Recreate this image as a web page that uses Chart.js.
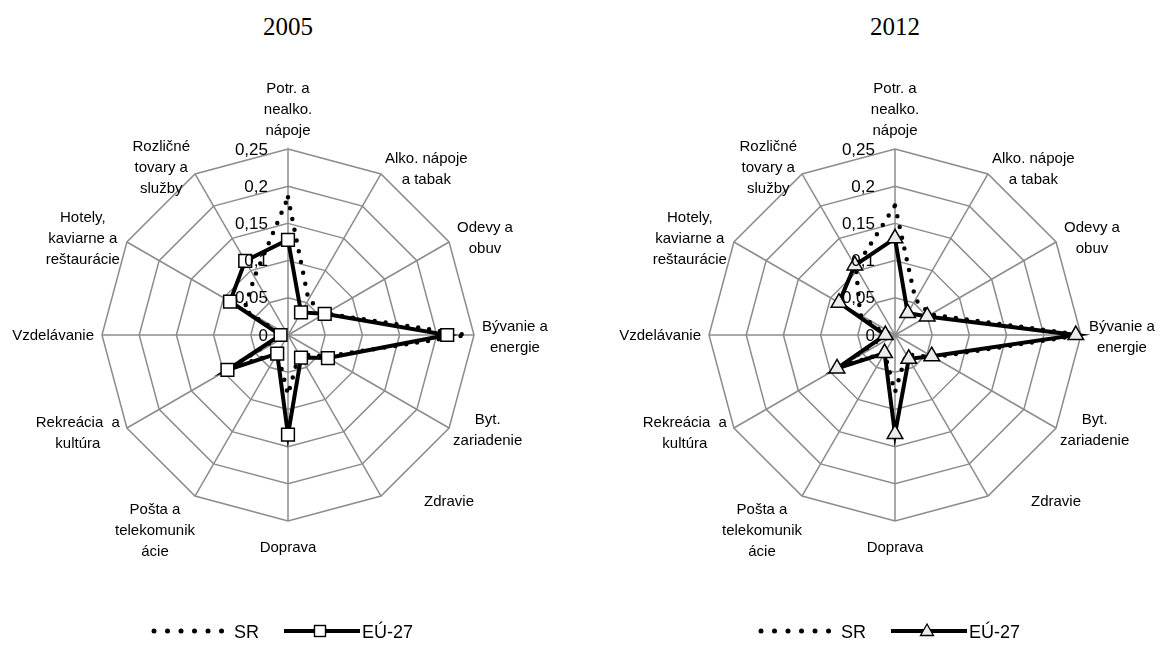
<!DOCTYPE html>
<html><head><meta charset="utf-8">
<script src="https://cdn.jsdelivr.net/npm/chart.js@4.4.1/dist/chart.umd.min.js"></script>
<style>
html,body{margin:0;padding:0;background:#fff;}
body{width:1160px;height:657px;position:relative;overflow:hidden;font-family:"Liberation Sans",Arial,sans-serif;}
.box{position:absolute;top:0;width:580px;height:657px;}
.title{position:absolute;top:10px;width:100px;text-align:center;font-family:"Liberation Serif","Times New Roman",serif;font-size:25px;line-height:34px;color:#000;}
.legend{position:absolute;top:615px;width:300px;height:30px;}
</style></head>
<body>
<div class="title" style="left:238px">2005</div>
<div class="title" style="left:845px">2012</div>
<div class="box" style="left:0"><canvas id="c1"></canvas></div>
<div class="box" style="left:580px"><canvas id="c2"></canvas></div>
<svg class="legend" style="left:140px" width="300" height="30">
  <g fill="#000"><circle cx="14" cy="16" r="2.5"/><circle cx="27.5" cy="16" r="2.5"/><circle cx="41" cy="16" r="2.5"/><circle cx="54.5" cy="16" r="2.5"/><circle cx="68" cy="16" r="2.5"/><circle cx="81.5" cy="16" r="2.5"/></g>
  <text x="94" y="22.5" font-family="Liberation Sans, Arial, sans-serif" font-size="18">SR</text>
  <line x1="144" y1="16" x2="220" y2="16" stroke="#000" stroke-width="4"/>
  <rect x="174.5" y="10.5" width="11" height="11" fill="#fff" stroke="#000" stroke-width="1.4"/>
  <text x="222" y="22.5" font-family="Liberation Sans, Arial, sans-serif" font-size="18">EÚ-27</text>
</svg>
<svg class="legend" style="left:747px" width="300" height="30">
  <g fill="#000"><circle cx="14" cy="16" r="2.5"/><circle cx="27.5" cy="16" r="2.5"/><circle cx="41" cy="16" r="2.5"/><circle cx="54.5" cy="16" r="2.5"/><circle cx="68" cy="16" r="2.5"/><circle cx="81.5" cy="16" r="2.5"/></g>
  <text x="94" y="22.5" font-family="Liberation Sans, Arial, sans-serif" font-size="18">SR</text>
  <line x1="144" y1="16" x2="220" y2="16" stroke="#000" stroke-width="4"/>
  <polygon points="180,9 186.5,20.5 173.5,20.5" fill="#ececec" stroke="#000" stroke-width="1.3"/>
  <text x="222" y="22.5" font-family="Liberation Sans, Arial, sans-serif" font-size="18">EÚ-27</text>
</svg>
<script>
// ---- data ----
const categories = [
  ['Potr. a','nealko.','nápoje'],
  ['Alko. nápoje','a tabak'],
  ['Odevy a','obuv'],
  ['Bývanie a','energie'],
  ['Byt.','zariadenie'],
  ['Zdravie'],
  ['Doprava'],
  ['Pošta a','telekomunik','ácie'],
  ['Rekreácia  a','kultúra'],
  ['Vzdelávanie'],
  ['Hotely,','kaviarne a','reštaurácie'],
  ['Rozličné','tovary a','služby']
];
const sr2005 = [0.185, 0.055, 0.058, 0.240, 0.058, 0.030, 0.080, 0.028, 0.088, 0.008, 0.068, 0.090];
const eu2005 = [0.128, 0.035, 0.057, 0.214, 0.062, 0.035, 0.134, 0.029, 0.094, 0.010, 0.090, 0.115];
const sr2012 = [0.174, 0.055, 0.055, 0.250, 0.060, 0.030, 0.077, 0.028, 0.085, 0.012, 0.054, 0.105];
const eu2012 = [0.130, 0.034, 0.050, 0.243, 0.057, 0.037, 0.133, 0.028, 0.090, 0.013, 0.087, 0.108];
const tickValues = [0, 0.05, 0.1, 0.15, 0.2, 0.25];
const tickLabels = ['0', '0,05', '0,1', '0,15', '0,2', '0,25'];
const seriesNames = ['SR', 'EÚ-27'];

// ---- label placement (relative to outer vertex) ----
const LABEL_PLACE = [
  {a:'center', dx:0, dy:-39},
  {a:'left', dx:4, dy:-5},
  {a:'left', dx:8, dy:-4},
  {a:'left', dx:8, dy:2},
  {a:'left', dx:4, dy:2},
  {a:'left', dx:43, dy:6},
  {a:'center', dx:0, dy:27},
  {a:'right', dx:0, dy:35},
  {a:'right', dx:-7, dy:5},
  {a:'right', dx:-8, dy:1},
  {a:'right', dx:-7, dy:-3},
  {a:'right', dx:-5, dy:-6}
];

const textPlugin = {
  id: 'radarText',
  afterDraw(chart) {
    const s = chart.scales.r, ctx = chart.ctx;
    ctx.save();
    ctx.fillStyle = '#000';
    ctx.font = '17px "Liberation Sans", Arial, sans-serif';
    ctx.textAlign = 'right';
    ctx.textBaseline = 'middle';
    tickValues.forEach((v, k) => {
      const d = s.getDistanceFromCenterForValue(v);
      ctx.fillText(tickLabels[k], s.xCenter - 20, s.yCenter - d + 1);
    });
    ctx.font = '15px "Liberation Sans", Arial, sans-serif';
    ctx.textAlign = 'center';
    categories.forEach((lines, i) => {
      const p = s.getPointPosition(i, s.drawingArea);
      const sp = LABEL_PLACE[i];
      const w = Math.max(...lines.map(t => ctx.measureText(t).width));
      let cx = p.x + sp.dx;
      if (sp.a === 'left') cx += w / 2;
      else if (sp.a === 'right') cx -= w / 2;
      const cy = p.y + sp.dy;
      const lh = 21;
      const top = cy - lh * (lines.length - 1) / 2;
      lines.forEach((t, j) => ctx.fillText(t, cx, top + j * lh));
    });
    ctx.restore();
  }
};

function makeChart(id, sr, eu, style, bg, pad) {
  return new Chart(document.getElementById(id), {
    type: 'radar',
    data: {
      labels: categories,
      datasets: [
        { label: seriesNames[1], data: eu, borderColor: '#000', borderWidth: 4, fill: false,
          pointStyle: style, pointRadius: 9, pointHoverRadius: 9,
          pointBackgroundColor: bg, pointBorderColor: '#000', pointBorderWidth: 1.5, tension: 0 },
        { label: seriesNames[0], data: sr, borderColor: '#000', borderWidth: 4.5, fill: false,
          borderDash: [0, 11], borderCapStyle: 'round', pointRadius: 0, pointHoverRadius: 0, tension: 0 }
      ]
    },
    options: {
      responsive: true, maintainAspectRatio: false, animation: false,
      layout: { padding: pad },
      plugins: { legend: { display: false }, title: { display: false }, tooltip: { enabled: false } },
      scales: {
        r: {
          min: 0, max: 0.25,
          ticks: { display: false, stepSize: 0.05 },
          pointLabels: { display: false },
          grid: { circular: false, color: '#8c8c8c', lineWidth: 1.5 },
          angleLines: { display: true, color: '#8c8c8c', lineWidth: 1.5 }
        }
      }
    },
    plugins: [textPlugin]
  });
}
makeChart('c1', sr2005, eu2005, 'rect', '#ffffff', {left: 102, right: 106, top: 149, bottom: 136});
makeChart('c2', sr2012, eu2012, 'triangle', '#ececec', {left: 129, right: 79, top: 149, bottom: 136});
</script>
</body></html>
